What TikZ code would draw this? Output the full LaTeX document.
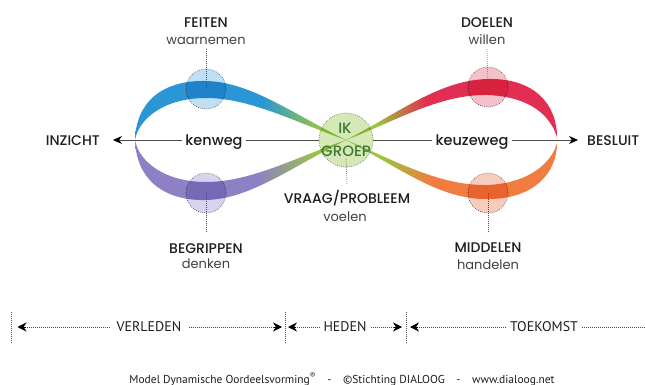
\documentclass[tikz,border=0pt]{standalone}
\usepackage{fontspec}
\setmainfont{Poppins}
\newfontfamily\pmed{Poppins Medium}
\newfontfamily\ptsans{PT Sans}
\usetikzlibrary{arrows.meta}
\definecolor{cBlue}{HTML}{2A96D6}
\definecolor{cPurple}{HTML}{8E80C4}
\definecolor{cRed}{HTML}{E22E52}
\definecolor{cOrange}{HTML}{F07C40}
\definecolor{cGreen}{HTML}{98C83E}
\definecolor{lBlue}{HTML}{BFE0F4}
\definecolor{lPurple}{HTML}{D8D3EE}
\definecolor{lRed}{HTML}{F5C0CA}
\definecolor{lOrange}{HTML}{F8CCBC}
\definecolor{lGreen}{HTML}{D6E8B8}
\definecolor{tGreen}{HTML}{3E7A34}
\definecolor{ink}{HTML}{1E1E1E}
\pgfdeclarehorizontalshading{shBlue}{100bp}{color(0bp)=(cBlue); color(25bp)=(cBlue); color(55bp)=(cBlue); color(69bp)=(cGreen); color(100bp)=(cGreen)}
\pgfdeclarehorizontalshading{shPurple}{100bp}{color(0bp)=(cPurple); color(25bp)=(cPurple); color(54bp)=(cPurple); color(69bp)=(cGreen); color(100bp)=(cGreen)}
\pgfdeclarehorizontalshading{shRed}{100bp}{color(0bp)=(cGreen); color(25bp)=(cGreen); color(32bp)=(cGreen); color(44bp)=(cRed); color(100bp)=(cRed)}
\pgfdeclarehorizontalshading{shOrange}{100bp}{color(0bp)=(cGreen); color(25bp)=(cGreen); color(33bp)=(cGreen); color(45bp)=(cOrange); color(100bp)=(cOrange)}
\tikzset{
  lab/.style={font=\pmed\fontsize{14}{16}\selectfont, text=ink, inner sep=0pt},
  sub/.style={font=\fontsize{13}{15}\selectfont, text=ink!85, inner sep=0pt},
  way/.style={font=\pmed\fontsize{14.5}{17}\selectfont, text=ink, inner xsep=3pt, inner ysep=0pt},
  ikt/.style={font=\pmed\fontsize{15}{16}\selectfont, text=tGreen, inner sep=0pt},
  pin/.style={circle, minimum size=40pt, inner sep=0pt, draw=black!70, line width=0.7pt, dash pattern=on 0.6pt off 1.4pt},
  vdots/.style={draw=black!70, line width=0.7pt, dash pattern=on 0.6pt off 1.4pt},
  hline/.style={draw=black!70, line width=0.8pt},
  arr/.style={-{Stealth[length=9pt,width=8pt,black]}},
  tl/.style={font=\ptsans\fontsize{14}{16}\selectfont, text=ink, inner xsep=4pt, inner ysep=0pt},
  tdots/.style={draw=black!70, line width=0.8pt, dash pattern=on 0.7pt off 1.3pt},
  tarr/.style={draw=black, solid, line width=0.8pt, -{Stealth[length=9pt,width=9pt,black]}},
  foot/.style={font=\ptsans\fontsize{11.5}{14}\selectfont, text=ink, inner sep=0pt}
}
\begin{document}
\begin{tikzpicture}[x=1pt,y=-1pt]
\useasboundingbox (0,0) rectangle (645,385);
\fill[white] (0,0) rectangle (645,385);

% ribbons
\shade[shading=shBlue] (346,140) .. controls (290,112) and (250,82) .. (206,81) .. controls (160,80) and (136,104) .. (135,140) .. controls (139,118) and (165,98) .. (206,98) .. controls (250,98) and (295,122) .. (346,140) -- cycle;
\shade[shading=shPurple] (346,140) .. controls (290,168) and (250,199) .. (206,200) .. controls (160,201) and (136,176) .. (135,140) .. controls (139,162) and (165,182) .. (206,182) .. controls (250,182) and (295,158) .. (346,140) -- cycle;
\shade[shading=shRed] (346,140) .. controls (400,112) and (440,80) .. (488,79) .. controls (535,78) and (557,105) .. (557,137) .. controls (550,115) and (530,97) .. (488,95) .. controls (440,94) and (398,120) .. (346,140) -- cycle;
\shade[shading=shOrange] (346,140) .. controls (400,168) and (440,200) .. (488,199) .. controls (535,199) and (557,172) .. (557,143) .. controls (552,162) and (530,183) .. (488,185) .. controls (440,186) and (398,162) .. (346,140) -- cycle;

% circles
\begin{scope}[blend mode=multiply]
\node[pin, fill=lBlue] (feitenC) at (206,89) {};
\node[pin, fill=lPurple] (begC) at (206,193) {};
\node[pin, fill=lRed] (doelC) at (488,87) {};
\node[pin, fill=lOrange] (middC) at (488,193) {};
\node[pin, fill=lGreen, minimum size=54pt, draw=tGreen!70!black!80] (ik) at (346,140) {};
\end{scope}

% labels
\node[lab, anchor=base] (feiten) at (206,28) {FEITEN};
\node[sub, anchor=base] (waar) at (206,45) {waarnemen};
\node[lab, anchor=base] (begr) at (206,253) {BEGRIPPEN};
\node[sub, anchor=base] (denken) at (206,268) {denken};
\node[lab, anchor=base] (doelen) at (487,28) {DOELEN};
\node[sub, anchor=base] (willen) at (487,45) {willen};
\node[lab, anchor=base] (midd) at (488,252) {MIDDELEN};
\node[sub, anchor=base] (hand) at (488,269) {handelen};
\node[lab, anchor=base] (vraag) at (347,203) {VRAAG/PROBLEEM};
\node[sub, anchor=base] (voelen) at (345,221) {voelen};
\node[lab, anchor=base east] (inzicht) at (100,146) {INZICHT};
\node[lab, anchor=base west] (besluit) at (587,146) {BESLUIT};
\node[way, anchor=base] (kenweg) at (214,146) {kenweg};
\node[way, anchor=base] (keuze) at (472,146) {keuzeweg};
\node[ikt, anchor=base] (ikT) at (345,134) {IK};
\node[ikt, anchor=base] (groepT) at (346,157) {GROEP};

% dotted pins
\draw[vdots] ([yshift=-4pt]waar.south) -- (feitenC.center);
\draw[vdots] (begC.center) -- ([yshift=11pt]begr.north);
\draw[vdots] ([yshift=-4pt]willen.south) -- (doelC.center);
\draw[vdots] (middC.center) -- ([yshift=11pt]midd.north);
\draw[vdots] ([yshift=-2pt]groepT.south) -- ([yshift=5pt]vraag.north);

% main axis
\coordinate (tipL) at (113,140);
\coordinate (tipR) at (578,140);
\draw[hline] (ik.west) -- (ik.west -| kenweg.east);
\draw[hline, arr] (ik.west -| kenweg.west) -- (tipL);
\draw[hline] (ik.east) -- (ik.east -| keuze.west);
\draw[hline, arr] (ik.east -| keuze.east) -- (tipR);

% timeline
\coordinate (t1) at (11.5,327);
\coordinate (t2) at (285,327);
\coordinate (t3) at (406,327);
\coordinate (tEnd) at (645,327);
\draw[tdots] ([yshift=15pt]t1) -- ([yshift=-16pt]t1);
\draw[tdots] ([yshift=15pt]t2) -- ([yshift=-16pt]t2);
\draw[tdots] ([yshift=15pt]t3) -- ([yshift=-16pt]t3);
\node[tl, inner xsep=7pt] (verl) at (149,327) {VERLEDEN};
\node[tl] (heden) at (345,327) {HEDEN};
\node[tl] (toek) at (544,327) {TOEKOMST};
\draw[tdots] (verl.west) -- ([xshift=13pt]t1);
\draw[tarr] ([xshift=14pt]t1) -- ([xshift=6pt]t1);
\draw[tdots] (verl.east) -- ([xshift=-10pt]t2);
\draw[tarr] ([xshift=-11pt]t2) -- ([xshift=-3pt]t2);
\draw[tdots] (heden.west) -- ([xshift=10pt]t2);
\draw[tarr] ([xshift=11pt]t2) -- ([xshift=3pt]t2);
\draw[tdots] (heden.east) -- ([xshift=-11pt]t3);
\draw[tarr] ([xshift=-12pt]t3) -- ([xshift=-4pt]t3);
\draw[tdots] (toek.west) -- ([xshift=11pt]t3);
\draw[tarr] ([xshift=12pt]t3) -- ([xshift=4pt]t3);
\draw[tdots] (toek.east) -- (tEnd);

% footer
\node[foot, anchor=base] (footer) at (342,383) {Model Dynamische Oordeelsvorming\textsuperscript{®}\quad-\quad©Stichting DIALOOG\quad-\quad www.dialoog.net};
\end{tikzpicture}
\end{document}
